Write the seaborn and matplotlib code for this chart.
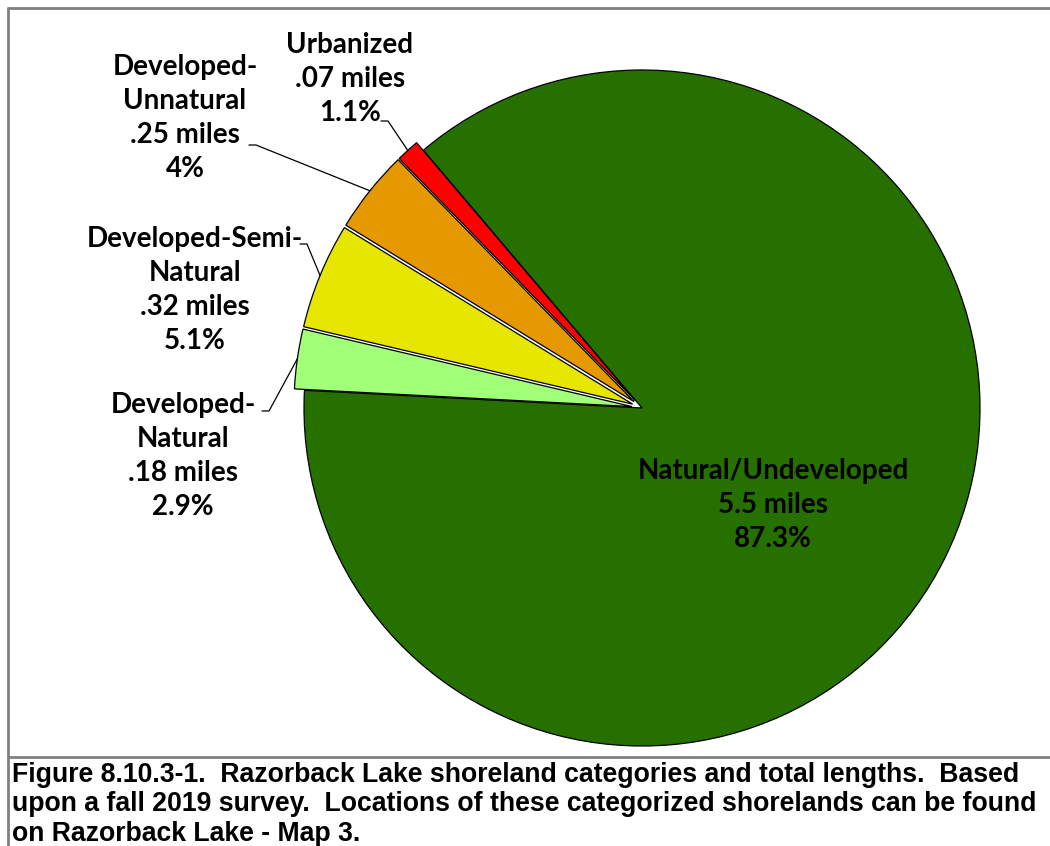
import matplotlib
matplotlib.use("Agg")
import matplotlib.pyplot as plt
from matplotlib.lines import Line2D
import numpy as np
import seaborn as sns

# shoreland categories, clockwise from the left side of the pie
categories = ["Developed-\nNatural", "Developed-Semi-\nNatural",
              "Developed-\nUnnatural", "Urbanized", "Natural/Undeveloped"]
miles = [0.18, 0.32, 0.25, 0.07, 5.5]
mile_labels = [".18 miles", ".32 miles", ".25 miles", ".07 miles", "5.5 miles"]
pct_labels = ["2.9%", "5.1%", "4%", "1.1%", "87.3%"]
colors = ["#a2ff78", "#e6e600", "#e69800", "#ff0000", "#267000"]

caption = ("Figure 8.10.3-1.  Razorback Lake shoreland categories and total lengths.  Based\n"
           "upon a fall 2019 survey.  Locations of these categorized shorelands can be found\n"
           "on Razorback Lake - Map 3.")

sns.set_theme(style="white")
plt.rcParams["font.family"] = ["Lato", "DejaVu Sans"]
plt.rcParams["text.color"] = "black"

W, H = 1050, 846
R = 338.0
cx, cy = 642.0, 408.0   # pie centre in pixels (from top)

fig = plt.figure(figsize=(W / 100, H / 100), dpi=100)
ax = fig.add_axes([0, 0, 1, 1])

explode = [0.03, 0.03, 0.03, 0.03, 0.0]
wedges, _ = ax.pie(miles, colors=colors, explode=explode, startangle=177,
                   counterclock=False, radius=1,
                   wedgeprops=dict(edgecolor="black", linewidth=0.9))


def px(x, y):
    """pixel (from top-left) -> data coords"""
    return (x - cx) / R, (cy - y) / R


ax.set_xlim(-cx / R, (W - cx) / R)
ax.set_ylim(-(H - cy) / R, cy / R)
ax.set_aspect("auto")
ax.axis("off")

# outside labels: text centre and the tail of the leader line (pixels)
label_pos = [(183, 456), (195, 290), (185, 118), (350, 79)]
tail_pos = [(262, 411), (300, 244), (249, 145), (381, 121)]

for i in range(4):
    w = wedges[i]
    mid = np.deg2rad((w.theta1 + w.theta2) / 2)
    ox, oy = w.center
    ex, ey = ox + np.cos(mid), oy + np.sin(mid)
    tx, ty = px(*tail_pos[i])
    elbow = tx + 7 / R
    ax.plot([tx, elbow, ex], [ty, ty, ey], color="black", lw=0.9)
    lx, ly = px(*label_pos[i])
    ax.text(lx, ly, f"{categories[i]}\n{mile_labels[i]}\n{pct_labels[i]}",
            ha="center", va="center", fontsize=20, fontweight="bold",
            linespacing=1.38)

lx, ly = px(773, 505)
ax.text(lx, ly, f"{categories[4]}\n{mile_labels[4]}\n{pct_labels[4]}",
        ha="center", va="center", fontsize=20, fontweight="bold",
        linespacing=1.38)

# chart frame
gray = "#808080"
fig.add_artist(Line2D([8 / W, 1], [1 - 8 / H, 1 - 8 / H], color=gray, lw=2))
fig.add_artist(Line2D([8 / W, 8 / W], [0, 1 - 8 / H], color=gray, lw=2))
fig.add_artist(Line2D([8 / W, 1], [1 - 757 / H, 1 - 757 / H], color=gray, lw=2))

fig.text(12 / W, 1 - 762 / H, caption, ha="left", va="top",
         family=["Liberation Sans", "DejaVu Sans"],
         fontsize=19.2, fontweight="bold", linespacing=1.17)

fig.savefig("out.png", dpi=100)
